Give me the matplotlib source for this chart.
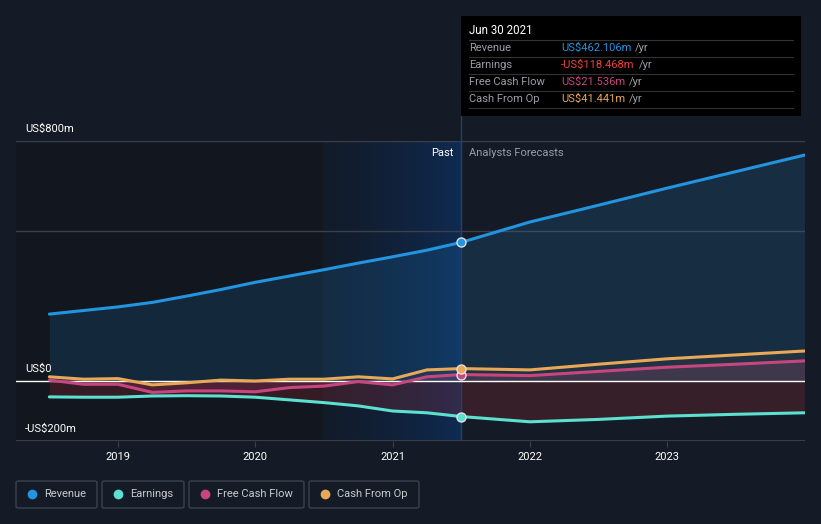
import matplotlib
matplotlib.use("Agg")
import matplotlib.pyplot as plt
import numpy as np
from matplotlib.patches import FancyBboxPatch, Rectangle
from matplotlib.colors import LinearSegmentedColormap

plt.rcParams['font.family'] = ['Roboto', 'DejaVu Sans']

# ---- data (US$ millions) ----
past_t = [2018.5, 2018.75, 2019.0, 2019.25, 2019.5, 2019.75, 2020.0, 2020.25,
          2020.5, 2020.75, 2021.0, 2021.25, 2021.5]
rev_past = [223, 235, 247, 262, 283, 305, 329, 350, 371, 393, 414, 436, 462.1]
earn_past = [-53, -54, -54, -50, -49, -50, -54, -63, -72, -83, -100, -106, -118.5]
fcf_past = [3, -11, -11, -38, -33, -33, -36, -22, -17, -2, -13, 14, 21.5]
cfo_past = [14, 6, 8, -13, -6, 3, 0, 6, 6, 14, 7, 37, 41.4]

fc_t = [2021.5, 2022.0, 2022.5, 2023.0, 2023.5, 2024.0]
rev_fc = [462.1, 530, 586, 643, 698, 753]
earn_fc = [-118.5, -136, -128, -117, -111, -106]
fcf_fc = [21.5, 18, 32, 46, 56, 67]
cfo_fc = [41.4, 37, 56, 74, 87, 100]

year_ticks = [2019, 2020, 2021, 2022, 2023]
y_labels = {800: "US$800m", 0: "US$0", -200: "-US$200m"}
grid_vals = [800, 500]

C_REV = '#2394df'
C_EARN = '#5ce0cf'
C_FCF = '#c8467f'
C_CFO = '#e8a857'
BG = '#151b26'

W, H = 821, 524
fig = plt.figure(figsize=(W / 100, H / 100), dpi=100, facecolor=BG)
ax = fig.add_axes([16 / W, (H - 441) / H, 789 / W, 300 / H])
ax.set_facecolor(BG)
x0 = 2019 - 102 / 137.3
x1 = 2019 + 687 / 137.3
ax.set_xlim(x0, x1)
ax.set_ylim(-200, 800)
for s in ax.spines.values():
    s.set_visible(False)
ax.tick_params(left=False, labelleft=False)
ax.set_xticks(year_ticks)
ax.set_xticklabels([str(y) for y in year_ticks], color='#ffffff', fontsize=8)
ax.tick_params(axis='x', length=4, color='#3a404b', pad=4)

split0 = 2020.49
now = 2021.5
# darker past region
ax.axvspan(x0, split0, color='#000000', alpha=0.18, lw=0, zorder=0)
# past highlight gradient
grad = np.linspace(0, 1, 256).reshape(1, -1)
cmap = LinearSegmentedColormap.from_list('g', [(0.05, 0.11, 0.20, 0.30), (0.05, 0.20, 0.40, 0.70)])
ax.imshow(grad, extent=[split0, now, -200, 800], aspect='auto', cmap=cmap, zorder=0.5)

for g in grid_vals:
    ax.axhline(g, color='#3a404b', lw=1, zorder=1)
ax.axhline(-200, color='#3a404b', lw=1.5, zorder=1)
ax.axhline(0, color='#ffffff', lw=1, zorder=4)

t_all = past_t + fc_t[1:]
rev = rev_past + rev_fc[1:]
earn = earn_past + earn_fc[1:]
fcf = fcf_past + fcf_fc[1:]
cfo = cfo_past + cfo_fc[1:]

ax.fill_between(t_all, 0, rev, color=C_REV, alpha=0.15, lw=0, zorder=1.5)
ax.fill_between(t_all, 0, earn, color='#b3303a', alpha=0.22, lw=0, zorder=1.6)
ax.fill_between(t_all, 0, fcf, color='#c8467f', alpha=0.18, lw=0, zorder=1.7)
ax.fill_between(t_all, 0, cfo, color='#e8a857', alpha=0.05, lw=0, zorder=1.7)

for ys, c in [(rev, C_REV), (earn, C_EARN), (fcf, C_FCF), (cfo, C_CFO)]:
    ax.plot(t_all, ys, color=c, lw=2.2, zorder=5, solid_capstyle='round')

ax.axvline(now, color='#23416a', lw=1, zorder=3)
for v, c in [(rev_past[-1], C_REV), (earn_past[-1], C_EARN), (fcf_past[-1], C_FCF), (cfo_past[-1], C_CFO)]:
    ax.plot([now], [v], 'o', ms=6.5, color=c, mec='#e0e0e0', mew=1, zorder=6)

# y labels
for v, txt in y_labels.items():
    fig.text(25 / W, 1 - ((381 - v * 0.3) - 12) / H, txt, color='#ffffff', fontsize=8, va='center', ha='left')

fig.text(453 / W, 1 - 153 / H, "Past", color='#ffffff', fontsize=8, ha='right', va='center')
fig.text(469 / W, 1 - 153 / H, "Analysts Forecasts", color='#9a9ea5', fontsize=8, ha='left', va='center')

# vertical line up to tooltip (above the axes only)
fig.add_artist(plt.Line2D([461 / W, 461 / W], [1 - 141 / H, 1 - 116 / H], color='#23416a', lw=1))

# tooltip
fig.add_artist(Rectangle((461 / W, 1 - 116 / H), 340 / W, 100 / H, transform=fig.transFigure,
                         facecolor='#000000', edgecolor='none'))
fig.text(469 / W, 1 - 31 / H, "Jun 30 2021", color='#ffffff', fontsize=8.3, va='center')
rows = [("Revenue", "US$462.106m", C_REV), ("Earnings", "-US$118.468m", '#f0413d'),
        ("Free Cash Flow", "US$21.536m", C_FCF), ("Cash From Op", "US$41.441m", C_CFO)]
for i, (lab, val, c) in enumerate(rows):
    yy = 48 + 17 * i
    sep = 40 + 17 * i
    fig.add_artist(plt.Line2D([469 / W, 793 / W], [1 - sep / H] * 2, color='#333333', lw=0.8))
    fig.text(469 / W, 1 - yy / H, lab, color='#9a9ea5', fontsize=8, va='center')
    t = fig.text(561 / W, 1 - yy / H, val, color=c, fontsize=8, va='center')
    fig.canvas.draw()
    bb = t.get_window_extent()
    fig.text((bb.x1 + 4) / W, 1 - yy / H, "/yr", color='#9a9ea5', fontsize=8, va='center')
fig.add_artist(plt.Line2D([469 / W, 793 / W], [1 - 108 / H] * 2, color='#333333', lw=0.8))

# legend
legend = [("Revenue", C_REV, 16, 97), ("Earnings", C_EARN, 102, 184),
          ("Free Cash Flow", C_FCF, 189, 304), ("Cash From Op", C_CFO, 309, 419)]
for lab, c, xa, xb in legend:
    fig.add_artist(FancyBboxPatch((xa / W, 1 - 508 / H), (xb - xa) / W, 27 / H,
                                  boxstyle='round,pad=0,rounding_size=0.003', transform=fig.transFigure,
                                  facecolor='none', edgecolor='#3d424b', lw=1))
    fig.add_artist(plt.Line2D([(xa + 16) / W], [1 - 494 / H], marker='o', ms=6, color=c, lw=0))
    fig.text((xa + 28) / W, 1 - 494 / H, lab, color='#c8cacd', fontsize=8, va='center')

fig.savefig('out.png', dpi=100, facecolor=BG)
